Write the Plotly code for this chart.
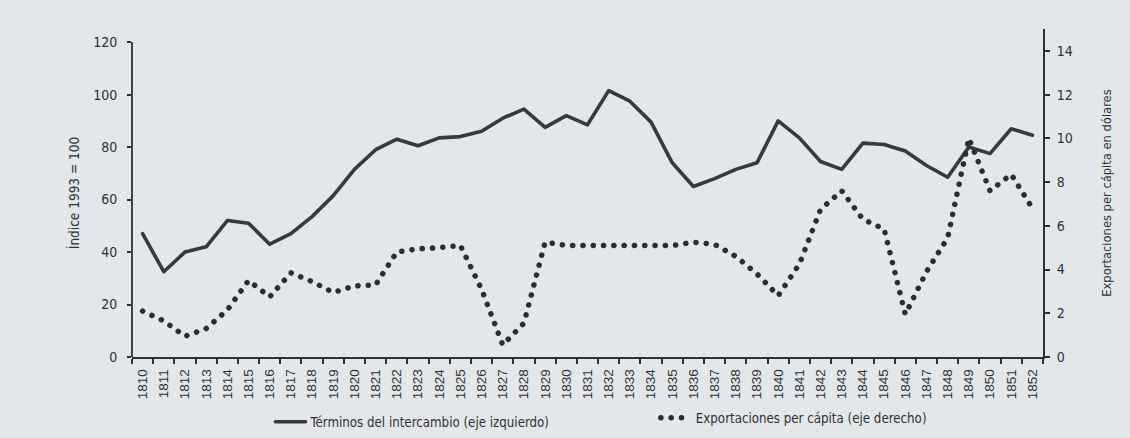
import plotly.graph_objects as go

years = ["1810", "1811", "1812", "1813", "1814", "1815", "1816", "1817", "1818", "1819",
         "1820", "1821", "1822", "1823", "1824", "1825", "1826", "1827", "1828", "1829",
         "1830", "1831", "1832", "1833", "1834", "1835", "1836", "1837", "1838", "1839",
         "1840", "1841", "1842", "1843", "1844", "1845", "1846", "1847", "1848", "1849",
         "1850", "1851", "1852"]

terminos = [47, 32.5, 40, 42, 52, 51, 43, 47, 53.5, 61.5,
            71.5, 79, 83, 80.5, 83.5, 84, 86, 91, 94.5, 87.5,
            92, 88.5, 101.5, 97.5, 89.5, 74, 65, 68, 71.5, 74,
            90, 83.5, 74.5, 71.5, 81.5, 81, 78.5, 73, 68.5, 80,
            77.5, 87, 84.5]

exportaciones = [2.1, 1.65, 0.95, 1.3, 2.15, 3.5, 2.75, 3.85, 3.45, 2.95,
                 3.25, 3.3, 4.8, 4.95, 5.0, 5.1, 3.1, 0.55, 1.55, 5.25,
                 5.1, 5.1, 5.1, 5.1, 5.1, 5.1, 5.25, 5.15, 4.6, 3.8,
                 2.8, 4.25, 6.75, 7.6, 6.3, 5.85, 1.95, 3.9, 5.45, 10.0,
                 7.6, 8.35, 6.8]

left_ticks = [0, 20, 40, 60, 80, 100, 120]
right_ticks = [0, 2, 4, 6, 8, 10, 12, 14]

name_terms = "Términos del intercambio (eje izquierdo)"
name_exp = "Exportaciones per cápita (eje derecho)"

FONT = "Liberation Sans Narrow, DejaVu Sans Condensed, Arial Narrow, sans-serif"
INK = "#2f3134"
BG = "#e4e7ea"

fig = go.Figure()
fig.add_trace(go.Scatter(
    x=years, y=terminos, name=name_terms, mode="lines",
    line=dict(color="#37393c", width=3.6), yaxis="y", legend="legend"))
fig.add_trace(go.Scatter(
    x=years, y=exportaciones, name=name_exp, mode="lines",
    line=dict(color="#2b2d30", width=5.5, dash="0.1px,10.2px"), yaxis="y2", legend="legend2"))

fig.update_layout(
    width=1130, height=438,
    margin=dict(l=132, r=87, t=29, b=81, autoexpand=False),
    paper_bgcolor=BG, plot_bgcolor=BG,
    font=dict(family=FONT, color=INK, size=14),
    xaxis=dict(
        type="category", range=[-0.5, 42.5], tickson="boundaries", automargin=False,
        showline=True, linecolor=INK, linewidth=1.8,
        ticks="outside", ticklen=5, tickwidth=1.5, tickcolor=INK,
        tickangle=-90, showgrid=False, zeroline=False, ticklabelstandoff=5,
        tickfont=dict(family="Liberation Sans, Arial, sans-serif", size=13.5, color=INK)),
    yaxis=dict(
        range=[0, 125], tickvals=left_ticks, showline=False, automargin=False,
        ticks="outside", ticklen=4, tickwidth=1.5, tickcolor=INK, ticklabelstandoff=7,
        showgrid=False, zeroline=False,
        tickfont=dict(size=14),
        title=dict(text="Índice 1993 = 100", font=dict(size=13.5), standoff=10)),
    yaxis2=dict(
        range=[0, 15], tickvals=right_ticks, overlaying="y", side="right", automargin=False,
        showline=True, linecolor=INK, linewidth=1.8,
        ticks="outside", ticklen=5, tickwidth=1.5, tickcolor=INK, ticklabelstandoff=4,
        showgrid=False, zeroline=False,
        tickfont=dict(size=14),
        title=dict(text="Exportaciones per cápita en dólares", font=dict(size=12.8), standoff=30)),
    legend=dict(orientation="h", x=0.152, xanchor="left", yref="container", y=0.036, yanchor="middle",
                bgcolor="rgba(0,0,0,0)", font=dict(size=13.2)),
    legend2=dict(orientation="h", x=0.575, xanchor="left", yref="container", y=0.045, yanchor="middle",
                 bgcolor="rgba(0,0,0,0)", font=dict(size=13.2)),
    showlegend=True,
)

# left axis line only up to 120, as in the original
fig.add_shape(type="line", xref="paper", yref="y", x0=0, x1=0, y0=0, y1=120,
              line=dict(color=INK, width=1.8), layer="above")

post = """
document.body.style.margin = '0';
document.body.style.background = '#e4e7ea';
var st = document.createElement('style');
st.innerHTML = 'body{margin:0 !important;} path.js-line, .legendlines path {stroke-linecap: round !important; stroke-linejoin: round;}';
document.head.appendChild(st);
"""
fig.write_html("out.html", post_script=post, config={"displayModeBar": False})
